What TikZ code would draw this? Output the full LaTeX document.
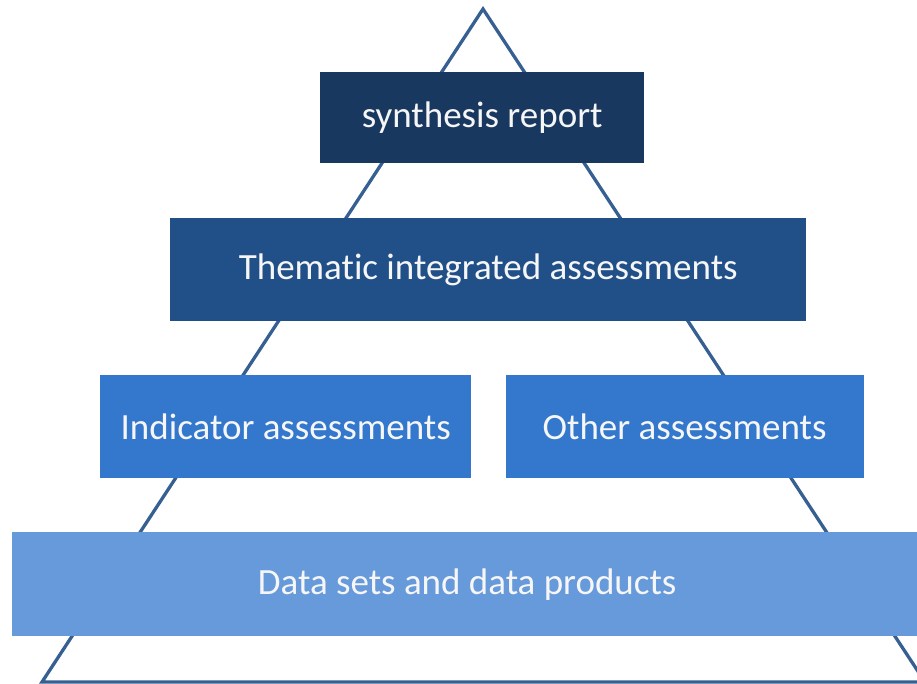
\documentclass[tikz,border=0pt]{standalone}
\usepackage{fontspec}
\setmainfont[Ligatures=NoCommon]{Carlito}
\usetikzlibrary{positioning}

\definecolor{toplevel}{RGB}{25,56,96}
\definecolor{midlevel}{RGB}{33,80,137}
\definecolor{lowlevel}{RGB}{51,120,205}
\definecolor{baselevel}{RGB}{103,154,218}
\definecolor{pyramid}{RGB}{55,96,146}

\tikzset{
  levelbox/.style={draw=none, text=white!93!gray, inner sep=0pt, anchor=north west,
    font=\fontsize{37}{44}\selectfont},
}

\begin{document}
\begin{tikzpicture}[x=1pt,y=-1pt]
  \useasboundingbox (0,0) rectangle (917,684);

  % pyramid outline
  \coordinate (apex) at (483,9);
  \coordinate (baseleft) at (42,682);
  \coordinate (baseright) at (925,682);
  \draw[pyramid, line width=3.3pt, line join=miter] (apex) -- (baseleft) -- (baseright) -- cycle;

  % levels
  \node[levelbox, fill=toplevel, minimum width=324pt, minimum height=91pt] (synth) at (320,72) {synthesis report};
  \node[levelbox, fill=midlevel, minimum width=636pt, minimum height=103pt] (thematic) at (170,218) {Thematic integrated assessments};
  \node[levelbox, fill=lowlevel, minimum width=371pt, minimum height=103pt] (indicator) at (100,375) {Indicator assessments};
  \node[levelbox, fill=lowlevel, minimum width=358pt, minimum height=103pt, anchor=west, right=34pt of indicator] (other) {Other assessments};
  \node[levelbox, fill=baselevel, minimum width=910pt, minimum height=104pt] (data) at (12,532) {Data sets and data products};
\end{tikzpicture}
\end{document}
